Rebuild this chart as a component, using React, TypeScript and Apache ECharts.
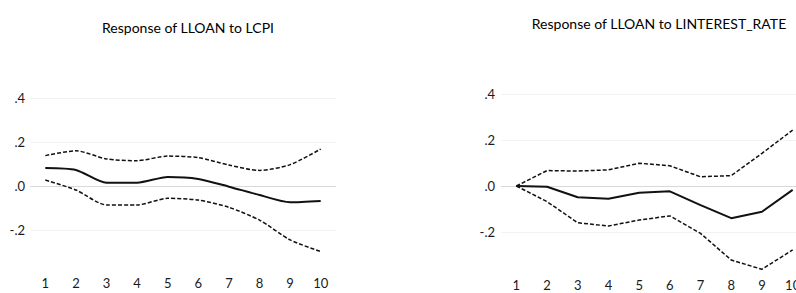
import React, { useEffect, useRef } from "react";
import * as echarts from "echarts";

const periods = ["1", "2", "3", "4", "5", "6", "7", "8", "9", "10"];
const titleLeft = "Response of LLOAN to LCPI";
const titleRight = "Response of LLOAN to LINTEREST_RATE";

const cpiUpper = [0.138, 0.16, 0.123, 0.115, 0.136, 0.129, 0.095, 0.071, 0.097, 0.168];
const cpiMid = [0.082, 0.073, 0.015, 0.015, 0.041, 0.032, -0.003, -0.041, -0.074, -0.068];
const cpiLower = [0.027, -0.018, -0.086, -0.086, -0.056, -0.064, -0.097, -0.155, -0.245, -0.298];

const rateUpper = [0, 0.067, 0.065, 0.07, 0.099, 0.088, 0.04, 0.045, 0.142, 0.243];
const rateMid = [0, -0.003, -0.049, -0.055, -0.029, -0.023, -0.083, -0.14, -0.112, -0.017];
const rateLower = [0, -0.068, -0.16, -0.174, -0.148, -0.13, -0.206, -0.322, -0.362, -0.278];

const FONT = "Lato, 'Open Sans', sans-serif";

function fmt(v: number): string {
  if (v < -0.3) return "";
  const s = Math.abs(v).toFixed(1).replace(/^0/, "");
  return v < 0 ? "-" + s : s;
}

export default function App() {
  const ref = useRef<HTMLDivElement>(null);
  useEffect(() => {
    document.body.style.margin = "0";
    const chart = echarts.init(ref.current!, null, { renderer: "svg" });
    const yAxisBase = (gridIndex: number, margin: number) => ({
      type: "value",
      gridIndex,
      min: -0.4,
      max: 0.4,
      interval: 0.2,
      axisLine: { show: false },
      axisTick: { show: false },
      axisLabel: { formatter: fmt, color: "#1a1a1a", fontSize: 13, fontFamily: FONT, margin },
      splitLine: {
        show: true,
        lineStyle: { color: ["rgba(0,0,0,0)", "#f2f2f2", "#d9d9d9", "#f2f2f2", "#f2f2f2"], width: 1 },
      },
    });
    const xAxisBase = (gridIndex: number, margin: number) => ({
      type: "category",
      gridIndex,
      data: periods,
      boundaryGap: true,
      axisLine: { show: false },
      axisTick: { show: false },
      splitLine: { show: false },
      axisLabel: { color: "#1a1a1a", fontSize: 13, fontFamily: FONT, margin, interval: 0 },
    });
    const dashed = { color: "#111", width: 1.5, type: [4, 2] as any };
    const solid = { color: "#111", width: 2, type: "solid" as any };
    const mk = (data: number[], idx: number, style: any, smooth: number) => ({
      type: "line",
      xAxisIndex: idx,
      yAxisIndex: idx,
      data,
      symbol: "none",
      smooth,
      lineStyle: style,
    });
    const titleStyle = { fontFamily: FONT, fontSize: 14, fontWeight: "normal", color: "#000" };
    chart.setOption({
      animation: false,
      backgroundColor: "#fff",
      title: [
        { text: titleLeft, left: 183, top: 15, textAlign: "center", textStyle: titleStyle },
        { text: titleRight, left: 654, top: 11, textAlign: "center", textStyle: titleStyle },
      ],
      grid: [
        { left: 30, top: 98, width: 306, height: 176 },
        { left: 501, top: 94, width: 307, height: 184 },
      ],
      xAxis: [xAxisBase(0, 2), xAxisBase(1, 0)],
      yAxis: [yAxisBase(0, 5), yAxisBase(1, 6)],
      series: [
        mk(cpiUpper, 0, dashed, 0.25),
        mk(cpiMid, 0, solid, 0.25),
        mk(cpiLower, 0, dashed, 0.25),
        mk(rateUpper, 1, dashed, 0),
        mk(rateMid, 1, solid, 0),
        mk(rateLower, 1, dashed, 0),
      ],
    });
    return () => chart.dispose();
  }, []);
  return (
    <div style={{ width: 796, height: 293, overflow: "hidden", position: "relative" }}>
      <div ref={ref} style={{ width: 830, height: 293 }} />
    </div>
  );
}
